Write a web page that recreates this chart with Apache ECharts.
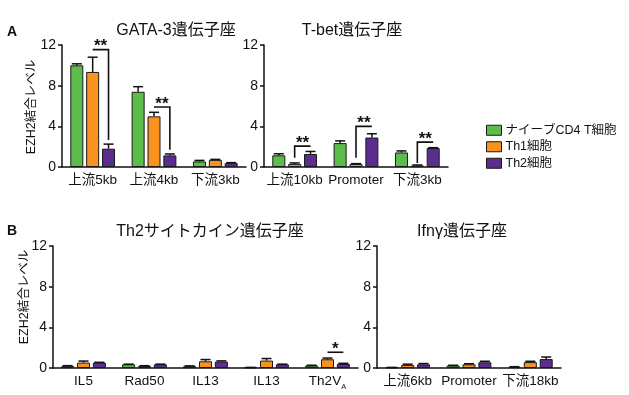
<!DOCTYPE html>
<html><head><meta charset="utf-8">
<script src="https://cdn.jsdelivr.net/npm/echarts@6/dist/echarts.min.js"></script>
<style>html,body{margin:0;padding:0;background:#fff}#c{width:629px;height:395px}</style>
</head><body><div id="c"></div>
<script>
// ---- data ----
const seriesNames = ['ナイーブCD4 T細胞', 'Th1細胞', 'Th2細胞'];
const yTicks = [0, 4, 8, 12];

const catA1 = ['上流5kb', '上流4kb', '下流3kb'];
const a1Naive = [10.0, 7.4, 0.55], a1NaiveErr = [0.15, 0.5, 0.1];
const a1Th1 = [9.35, 4.98, 0.7], a1Th1Err = [1.45, 0.4, 0.05];
const a1Th2 = [1.8, 1.14, 0.38], a1Th2Err = [0.45, 0.14, 0.05];
const sigA1 = [[0, 1, 2, 11.55, 11.55, 2.65, '**'], [1, 1, 2, 5.9, 5.9, 1.7, '**']];

const catA2 = ['上流10kb', 'Promoter', '下流3kb'];
const a2Naive = [1.15, 2.35, 1.43], a2NaiveErr = [0.15, 0.22, 0.15];
const a2Th1 = [0.3, 0.3, 0.15], a2Th1Err = [0.1, 0.03, 0.05];
const a2Th2 = [1.28, 2.9, 1.87], a2Th2Err = [0.25, 0.37, 0.03];
const sigA2 = [[0, 1, 2, 2.05, 0.9, 2.05, '**'], [1, 1, 2, 4.0, 0.9, 4.0, '**'], [2, 1, 2, 2.45, 0.4, 2.45, '**']];

const catB1 = ['IL5', 'Rad50', 'IL13', 'IL13', 'Th2VA'];
const b1Naive = [0.18, 0.36, 0.18, 0.05, 0.24], b1NaiveErr = [0.05, 0.02, 0.03, 0.01, 0.03];
const b1Th1 = [0.53, 0.2, 0.66, 0.73, 0.86], b1Th1Err = [0.15, 0.03, 0.17, 0.2, 0.12];
const b1Th2 = [0.53, 0.36, 0.63, 0.36, 0.4], b1Th2Err = [0.03, 0.02, 0.07, 0.02, 0.06];
const sigB1 = [[4, 1, 2, 1.55, 1.55, 1.55, '*']];

const catB2 = ['上流6kb', 'Promoter', '下流18kb'];
const b2Naive = [0.05, 0.24, 0.1], b2NaiveErr = [0.01, 0.03, 0.03];
const b2Th1 = [0.3, 0.36, 0.58], b2Th1Err = [0.08, 0.06, 0.08];
const b2Th2 = [0.36, 0.56, 0.88], b2Th2Err = [0.08, 0.1, 0.2];
const sigB2 = [];

// ---- style ----
const FONT = '"Liberation Sans", "Noto Sans CJK JP", sans-serif';
const COLORS = ['#5cbd4a', '#f7931e', '#5a2d8f'];
const BAR_W = 13, GAP = 0.22, SPACING = BAR_W * (1 + GAP);
const INK = '#111';

const grids = [
  {left: 62, top: 45, width: 184, height: 122},
  {left: 264, top: 45, width: 184, height: 122},
  {left: 53, top: 246, width: 305, height: 122},
  {left: 377, top: 246, width: 184, height: 122}
];
const panels = [
  {cats: catA1, vals: [a1Naive, a1Th1, a1Th2], errs: [a1NaiveErr, a1Th1Err, a1Th2Err], sig: sigA1},
  {cats: catA2, vals: [a2Naive, a2Th1, a2Th2], errs: [a2NaiveErr, a2Th1Err, a2Th2Err], sig: sigA2},
  {cats: catB1, vals: [b1Naive, b1Th1, b1Th2], errs: [b1NaiveErr, b1Th1Err, b1Th2Err], sig: sigB1},
  {cats: catB2, vals: [b2Naive, b2Th1, b2Th2], errs: [b2NaiveErr, b2Th1Err, b2Th2Err], sig: sigB2}
];

const xAxes = [], yAxes = [], series = [];
panels.forEach((p, gi) => {
  xAxes.push({
    type: 'category', gridIndex: gi, data: p.cats,
    axisLine: {lineStyle: {color: INK, width: 1.5}},
    axisTick: {alignWithLabel: true, length: 5, lineStyle: {color: INK, width: 1.5}},
    axisLabel: {
      color: INK, fontFamily: FONT, fontSize: 13.5, margin: 7, interval: 0,
      formatter: v => v === 'Th2VA' ? '{n|Th2V}{s|A}' : v,
      rich: {n: {fontFamily: FONT, fontSize: 13.5, color: INK, verticalAlign: 'bottom'},
             s: {fontFamily: FONT, fontSize: 7.5, color: INK, verticalAlign: 'bottom', padding: [0, 0, -2, 0]}}
    }
  });
  yAxes.push({
    type: 'value', gridIndex: gi, min: yTicks[0], max: yTicks[yTicks.length - 1], interval: 4,
    splitLine: {show: false},
    axisLine: {show: true, lineStyle: {color: INK, width: 1.5}},
    axisTick: {show: true, length: 4, lineStyle: {color: INK, width: 1.5}},
    axisLabel: {color: INK, fontFamily: FONT, fontSize: 14, margin: 6}
  });
  p.vals.forEach((vals, si) => {
    series.push({
      type: 'bar', name: seriesNames[si], xAxisIndex: gi, yAxisIndex: gi,
      data: vals, barWidth: BAR_W, barGap: (GAP * 100) + '%',
      itemStyle: {color: COLORS[si], borderColor: '#1a1a1a', borderWidth: 1},
      z: 2
    });
  });
  const errData = [];
  p.vals.forEach((vals, si) => vals.forEach((v, ci) => errData.push([ci, si, v, p.errs[si][ci]])));
  series.push({
    type: 'custom', xAxisIndex: gi, yAxisIndex: gi, data: errData, z: 4, clip: false,
    encode: {x: 0, y: 2}, silent: true,
    renderItem: (params, api) => {
      const ci = api.value(0), si = api.value(1), v = api.value(2), e = api.value(3);
      const b = api.coord([ci, v]), t = api.coord([ci, v + e]);
      const x = b[0] + (si - 1) * SPACING;
      const st = {stroke: INK, lineWidth: 1.5};
      return {type: 'group', children: [
        {type: 'line', shape: {x1: x, y1: b[1], x2: x, y2: t[1]}, style: st},
        {type: 'line', shape: {x1: x - 5, y1: t[1], x2: x + 5, y2: t[1]}, style: st}
      ]};
    }
  });
  if (p.sig.length) {
    series.push({
      type: 'custom', xAxisIndex: gi, yAxisIndex: gi, data: p.sig.map(s => s.slice(0, 6)), z: 5, clip: false,
      encode: {x: 0, y: 3}, silent: true,
      renderItem: (params, api) => {
        const s = p.sig[params.dataIndex];
        const c = api.coord([s[0], s[3]]);
        const xl = c[0] + (s[1] - 1) * SPACING, xr = c[0] + (s[2] - 1) * SPACING;
        const yl = api.coord([s[0], s[4]])[1], yr = api.coord([s[0], s[5]])[1];
        const st = {stroke: INK, lineWidth: 1.6, fill: null};
        return {type: 'group', children: [
          {type: 'polyline', shape: {points: [[xl, yl], [xl, c[1]], [xr, c[1]], [xr, yr]]}, style: st},
          {type: 'text', x: (xl + xr) / 2, y: c[1] - 3,
           style: {text: s[6], font: 'bold 17px ' + FONT, fill: INK, textAlign: 'center', textVerticalAlign: 'middle'}}
        ]};
      }
    });
  }
});

const txt = (text, x, y, size, extra) => Object.assign({
  type: 'text', x, y,
  style: {text, font: size + 'px ' + FONT, fill: INK, textAlign: 'center', textVerticalAlign: 'middle'}
}, extra || {});

const chart = echarts.init(document.getElementById('c'), null, {renderer: 'canvas'});
chart.setOption({
  animation: false,
  backgroundColor: '#fff',
  grid: grids,
  xAxis: xAxes,
  yAxis: yAxes,
  series,
  legend: {
    data: seriesNames, orient: 'vertical', left: 481, top: 119,
    icon: 'rect', itemWidth: 15, itemHeight: 10, itemGap: 4,
    itemStyle: {borderColor: '#1a1a1a', borderWidth: 1},
    textStyle: {fontFamily: FONT, fontSize: 12.5, color: INK, padding: [0, 0, 0, -1]},
    selectedMode: false
  },
  graphic: [
    txt('A', 12, 32, 14, {style: {text: 'A', font: 'bold 14px ' + FONT, fill: INK, textAlign: 'center', textVerticalAlign: 'middle'}}),
    txt('B', 12, 231, 14, {style: {text: 'B', font: 'bold 14px ' + FONT, fill: INK, textAlign: 'center', textVerticalAlign: 'middle'}}),
    txt('GATA-3遺伝子座', 176, 31, 16),
    txt('T-bet遺伝子座', 352, 31, 16),
    txt('Th2サイトカイン遺伝子座', 210, 232, 16),
    txt('Ifnγ遺伝子座', 462, 232, 16),
    txt('EZH2結合レベル', 32, 107, 12.5, {rotation: Math.PI / 2}),
    txt('EZH2結合レベル', 25, 297, 12.5, {rotation: Math.PI / 2})
  ]
});
</script></body></html>
